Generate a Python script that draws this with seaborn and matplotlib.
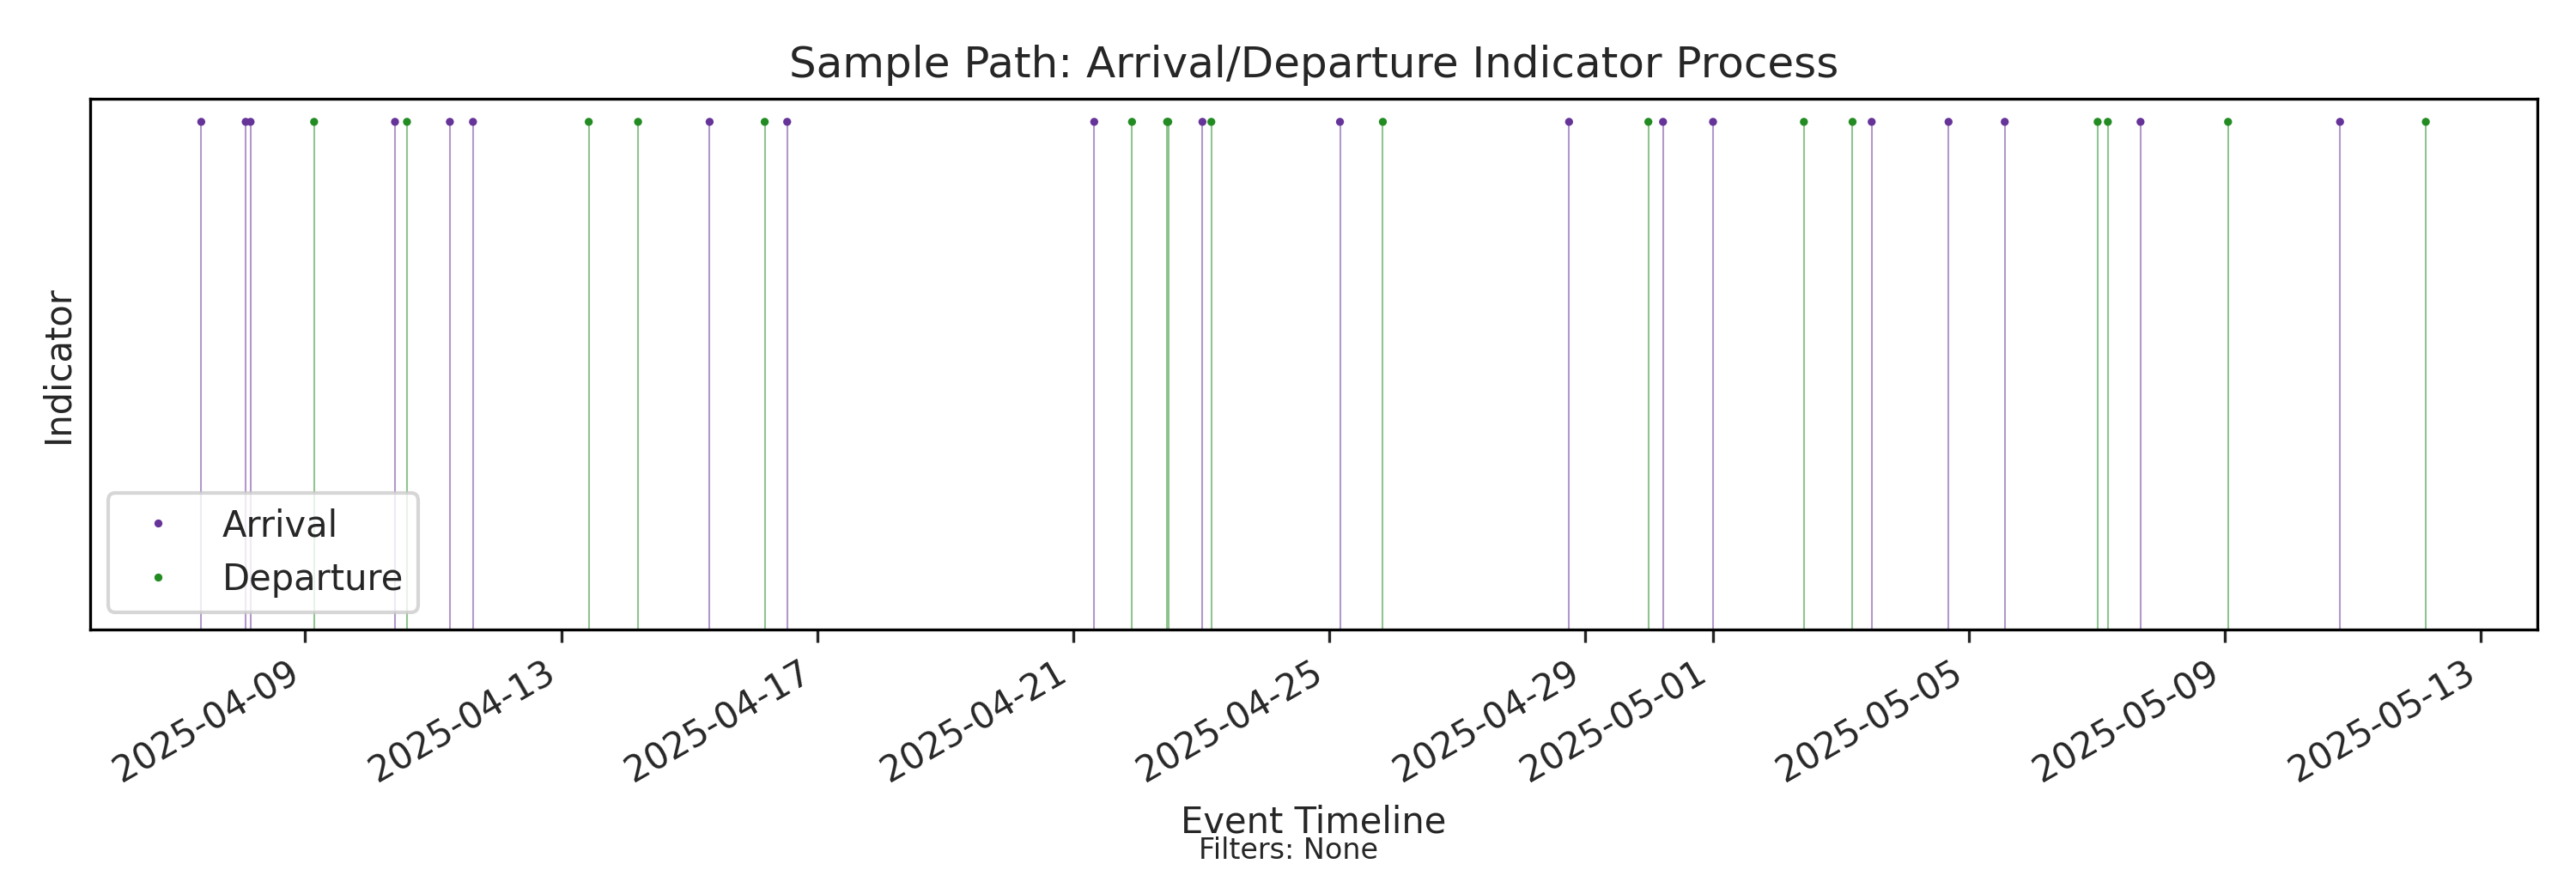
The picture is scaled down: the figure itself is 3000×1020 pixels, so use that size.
import matplotlib
matplotlib.use("Agg")
import matplotlib.pyplot as plt
import matplotlib.dates as mdates
import seaborn as sns
import pandas as pd

arrivals = ["2025-04-07 09:00", "2025-04-08 01:40", "2025-04-08 03:30", "2025-04-10 09:40",
            "2025-04-11 06:15", "2025-04-11 14:55", "2025-04-15 07:40", "2025-04-16 12:45",
            "2025-04-21 07:55", "2025-04-23 00:30", "2025-04-25 04:05", "2025-04-28 18:00",
            "2025-04-30 05:15", "2025-05-01 00:00", "2025-05-03 11:30", "2025-05-04 16:20",
            "2025-05-05 13:25", "2025-05-07 16:20", "2025-05-10 19:10"]
departures = ["2025-04-09 03:20", "2025-04-10 14:10", "2025-04-13 10:20", "2025-04-14 04:50",
              "2025-04-16 04:20", "2025-04-21 22:05", "2025-04-22 11:15", "2025-04-22 11:40",
              "2025-04-23 03:50", "2025-04-25 20:10", "2025-04-29 23:45", "2025-05-02 10:05",
              "2025-05-03 04:20", "2025-05-07 00:15", "2025-05-07 04:05", "2025-05-09 01:10",
              "2025-05-12 03:20"]

sns.set_style("white")
plt.rcParams['font.family'] = ['DejaVu Sans']

df = pd.concat([
    pd.DataFrame({"time": pd.to_datetime(arrivals), "kind": "Arrival"}),
    pd.DataFrame({"time": pd.to_datetime(departures), "kind": "Departure"}),
])
df["y"] = 1.0
colors = {"Arrival": "#663399", "Departure": "#228B22"}

fig = plt.figure(figsize=(10, 3.4), dpi=300)
ax = fig.add_axes([0.035, 0.281, 0.950, 0.606])
for k, c in colors.items():
    sub = df[df.kind == k]
    ax.vlines(sub.time, 0, sub.y, color=c, alpha=0.5, linewidth=0.5)
sns.scatterplot(data=df, x="time", y="y", hue="kind", palette=colors, s=5,
                edgecolor="none", ax=ax)
ax.set_ylim(0, 1.045)
ax.set_xlim(pd.Timestamp("2025-04-05 15:20"), pd.Timestamp("2025-05-13 21:10"))
ax.set_yticks([])
ax.xaxis.set_major_locator(mdates.DayLocator(bymonthday=[1, 5, 9, 13, 17, 21, 25, 29]))
ax.xaxis.set_major_formatter(mdates.DateFormatter("%Y-%m-%d"))
ax.tick_params(axis="x", bottom=True, length=3.5, width=0.8, labelsize=10)
plt.setp(ax.get_xticklabels(), rotation=30, ha="right")
for s in ax.spines.values():
    s.set_color("black"); s.set_linewidth(0.8)
ax.set_title("Sample Path: Arrival/Departure Indicator Process", fontsize=12)
ax.set_xlabel("Event Timeline", fontsize=10)
ax.set_ylabel("Indicator", fontsize=10)
leg = ax.legend(loc="lower left", fontsize=10, title=None)
fig.text(0.5, 0.02, "Filters: None", ha="center", fontsize=8)
fig.savefig("out.png", dpi=300)
